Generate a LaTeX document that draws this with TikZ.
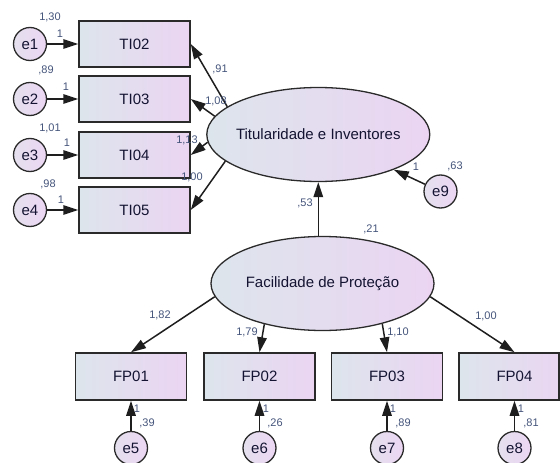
\documentclass[tikz,border=0pt]{standalone}
\usepackage{fontspec}
\setmainfont{Liberation Sans}
\usetikzlibrary{shapes.geometric,arrows.meta}
\definecolor{boxL}{HTML}{DDE5EC}
\definecolor{boxR}{HTML}{EBD4F2}
\definecolor{errL}{HTML}{E4E0EE}
\definecolor{errR}{HTML}{ECD6F3}
\definecolor{edgec}{HTML}{2A2A2A}
\definecolor{linec}{HTML}{1E1E1E}
\definecolor{txt}{HTML}{141432}
\definecolor{lblc}{HTML}{44547A}
\begin{document}
\begin{tikzpicture}[x=1pt,y=-1pt,
 obs/.style={rectangle, draw=edgec, line width=1.5pt, left color=boxL, right color=boxR,
   minimum width=111pt, minimum height=46pt, inner sep=0pt,
   font=\fontsize{15}{18}\selectfont, text=txt},
 lat/.style={ellipse, draw=edgec, line width=1.3pt, left color=boxL, right color=boxR,
   minimum width=223pt, minimum height=94pt, inner sep=0pt,
   font=\fontsize{15}{18}\selectfont, text=txt},
 err/.style={circle, draw=edgec, line width=1.3pt, left color=errL, right color=errR,
   minimum size=33pt, inner sep=0pt, font=\fontsize{15}{18}\selectfont, text=txt},
 conn/.style={draw=linec, line width=1.5pt, -{Triangle[length=15pt,width=9.5pt]}},
 lbl/.style={font=\fontsize{11}{13}\selectfont, text=lblc, inner sep=0pt},
]
\useasboundingbox (0,0) rectangle (560,463);

% observed variables (top)
\node[obs] (ti02) at (134.5,44) {TI02};
\node[obs] (ti03) at (134.5,99) {TI03};
\node[obs] (ti04) at (134.5,155) {TI04};
\node[obs] (ti05) at (134.5,210) {TI05};

% errors (left)
\node[err] (e1) at (30,44) {e1};
\node[err] (e2) at (30,99) {e2};
\node[err] (e3) at (30,155) {e3};
\node[err] (e4) at (30,210) {e4};

% latent variables
\node[lat] (ti) at (318.3,134.5) {\makebox[0pt]{Titularidade e Inventores}};
\node[lat] (fp) at (322.5,283.5) {\makebox[0pt]{Facilidade de Proteção}};
\node[err] (e9) at (440.5,191.5) {e9};

% observed variables (bottom)
\node[obs, minimum height=47pt] (fp01) at (131,376.5) {FP01};
\node[obs, minimum height=47pt] (fp02) at (259.5,376.5) {FP02};
\node[obs, minimum height=47pt] (fp03) at (387,376.5) {FP03};
\node[obs, minimum height=47pt] (fp04) at (514.5,376.5) {FP04};
\draw[draw=edgec, line width=1.5pt] (fp04.north west -| 559,0) -- (fp04.south west -| 559,0);

% errors (bottom)
\node[err] (e5) at (131,448) {e5};
\node[err] (e6) at (259.5,448) {e6};
\node[err] (e7) at (387,448) {e7};
\node[err] (e8) at (514.5,448) {e8};

% connectors
\draw[conn] (e1) -- (ti02);
\draw[conn] (e2) -- (ti03);
\draw[conn] (e3) -- (ti04);
\draw[conn] (e4) -- (ti05);
\draw[conn] (ti.163) -- (ti02.east);
\draw[conn] (ti.170.6) -- (ti03.east);
\draw[conn] (ti.184.4) -- (ti04.east);
\draw[conn] (ti.196.6) -- (ti05.east);
\draw[conn] (e9) -- (ti);
\draw[conn] (ti.south |- fp.north) -- (ti.south);
\draw[conn] (fp.187.5) -- (fp01.north);
\draw[conn] (fp.215.8) -- (fp02.north);
\draw[conn] (fp.326) -- (fp03.north);
\draw[conn] (fp.353) -- (fp04.north);
\draw[conn] (e5) -- (fp01);
\draw[conn] (e6) -- (fp02);
\draw[conn] (e7) -- (fp03);
\draw[conn] (e8) -- (fp04);

% labels
\node[lbl] (v1) at (50,17) {1,30};
\node[lbl] (w1) at (60,34) {1};
\node[lbl] (v2) at (46,70) {,89};
\node[lbl] (w2) at (66,87) {1};
\node[lbl] (v3) at (50,128) {1,01};
\node[lbl] (w3) at (67,143) {1};
\node[lbl] (v4) at (48,184) {,98};
\node[lbl] (w4) at (61,200) {1};
\node[lbl] (r1) at (220,69) {,91};
\node[lbl] (r2) at (216,101) {1,08};
\node[lbl] (r3) at (187,140) {1,13};
\node[lbl] (r4) at (192,177) {1,00};
\node[lbl] (r5) at (305,203) {,53};
\node[lbl] (w9) at (416,167) {1};
\node[lbl] (v9) at (455,166) {,63};
\node[lbl] (vfp) at (371,229) {,21};
\node[lbl] (s1) at (160,315) {1,82};
\node[lbl] (s2) at (247,332) {1,79};
\node[lbl] (s3) at (398,332) {1,10};
\node[lbl] (s4) at (486,316) {1,00};
\node[lbl] (w5) at (137,409) {1};
\node[lbl] (v5) at (147,423) {,39};
\node[lbl] (w6) at (266,409) {1};
\node[lbl] (v6) at (275,423) {,26};
\node[lbl] (w7) at (393,409) {1};
\node[lbl] (v7) at (403,423) {,89};
\node[lbl] (w8) at (521,409) {1};
\node[lbl] (v8) at (531,423) {,81};
\end{tikzpicture}
\end{document}
